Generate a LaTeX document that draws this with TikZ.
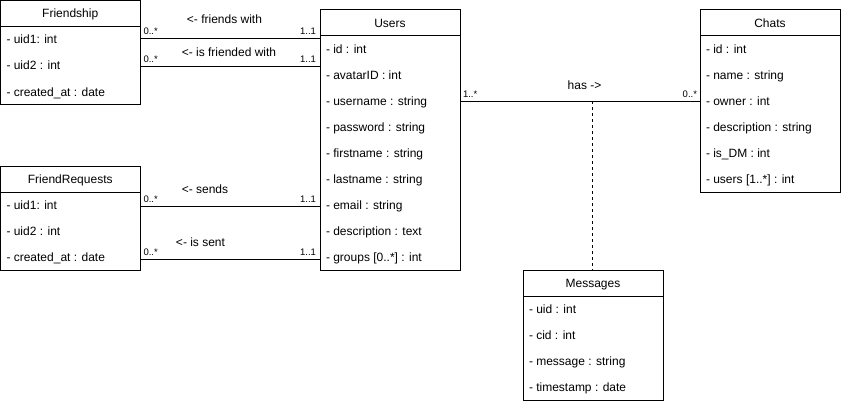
\documentclass[tikz,border=0pt]{standalone}
\usepackage{fontspec}
\setmainfont{Liberation Sans}
\begin{document}
\begin{tikzpicture}[x=1pt,y=-1pt,line width=1pt,
  classbox/.style={draw,line width=1pt,anchor=north west,inner sep=0pt,outer sep=0pt},
  titletext/.style={inner sep=0pt,anchor=base,font=\fontsize{12}{14}\selectfont},
  rowtext/.style={inner sep=0pt,anchor=base west,font=\fontsize{12}{14}\selectfont},
  assoc/.style={line width=1pt},
  linklabel/.style={inner sep=0pt,anchor=base,font=\fontsize{12}{14}\selectfont},
  multsrc/.style={inner sep=0pt,anchor=base west,font=\fontsize{9.5}{11}\selectfont},
  multdst/.style={inner sep=0pt,anchor=base east,font=\fontsize{9.5}{11}\selectfont},
  depends/.style={line width=1pt,dash pattern=on 3pt off 3pt}]
\useasboundingbox (0,0) rectangle (841,404);

% a class: name, x, y, width, number of rows, title, rows
\newcommand{\umlclass}[7]{%
  \node[classbox,minimum width=#4pt,minimum height={(#5+1)*26pt}] (#1) at (#2,#3) {};
  \draw ([yshift=-26pt]#1.north west) -- ([yshift=-26pt]#1.north east);
  \node[titletext] (#1-title) at ([yshift=-17.5pt]#1.north) {#6};
  \foreach \r [count=\i] in {#7}
    \node[rowtext] (#1-row\i) at ([xshift=5.5pt,yshift={-26pt*\i-17.5pt}]#1.north west) {\r};
}

\umlclass{friendship}{0.5}{0.5}{139.5}{3}{Friendship}%
  {- uid1: int,- uid2 : int,- created\_at : date}
\umlclass{requests}{0.5}{166}{139.5}{3}{FriendRequests}%
  {- uid1: int,- uid2 : int,- created\_at : date}
\umlclass{users}{320}{10}{140}{9}{Users}%
  {- id : int,- avatarID : int,- username : string,- password : string,
   - firstname : string,- lastname : string,- email : string,
   - description : text,- groups [0..*] : int}
\umlclass{chats}{700}{10}{140}{6}{Chats}%
  {- id : int,- name : string,- owner : int,- description : string,
   - is\_DM : int,- users [1..*] : int}
\umlclass{messages}{523}{270}{140}{4}{Messages}%
  {- uid : int,- cid : int,- message : string,- timestamp : date}

% heights of the association lines
\coordinate (yfa) at (0,39);
\coordinate (yfb) at (0,67);
\coordinate (yra) at (0,206);
\coordinate (yrb) at (0,259);
\coordinate (yhas) at (0,101);

% Friendship -- Users
\draw[assoc] (friendship.east |- yfa) -- (users.west |- yfa);
\node[linklabel] (lfa) at (224.5,24) {<- friends with};
\node[multsrc] (mfa1) at (143,35) {0..*};
\node[multdst] (mfa2) at (316.5,35) {1..1};
\draw[assoc] (friendship.east |- yfb) -- (users.west |- yfb);
\node[linklabel] (lfb) at (229,56.5) {<- is friended with};
\node[multsrc] (mfb1) at (143,63) {0..*};
\node[multdst] (mfb2) at (316.5,63) {1..1};

% FriendRequests -- Users
\draw[assoc] (requests.east |- yra) -- (users.west |- yra);
\node[linklabel] (lra) at (205,193.5) {<- sends};
\node[multsrc] (mra1) at (143,202) {0..*};
\node[multdst] (mra2) at (316.5,202) {1..1};
\draw[assoc] (requests.east |- yrb) -- (users.west |- yrb);
\node[linklabel] (lrb) at (200.5,246) {<- is sent};
\node[multsrc] (mrb1) at (143,255) {0..*};
\node[multdst] (mrb2) at (316.5,255) {1..1};

% Users -- Chats, with Messages as association class
\draw[assoc] (users.east |- yhas) -- (chats.west |- yhas);
\node[linklabel] (lhas) at (584.5,89.5) {has ->};
\node[multsrc] (mh1) at (462.5,97) {1..*};
\node[multdst] (mh2) at (697.5,97) {0..*};
\draw[depends] ([xshift=-1pt]messages.north |- yhas) -- ([xshift=-1pt]messages.north);
\end{tikzpicture}
\end{document}
